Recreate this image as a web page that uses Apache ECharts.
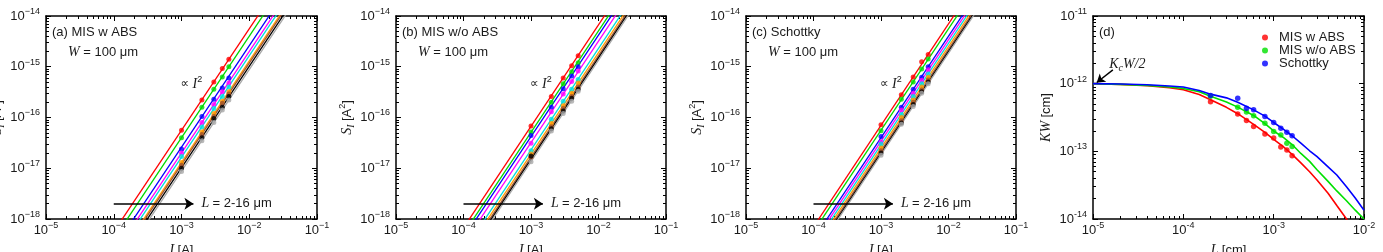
<!DOCTYPE html>
<html>
<head>
<meta charset="utf-8">
<script src="https://cdn.jsdelivr.net/npm/echarts@6/dist/echarts.min.js"></script>
<style>
  html, body { margin: 0; padding: 0; background: #fff; }
  #chart { width: 1383px; height: 252px; }
</style>
</head>
<body>
<div id="chart"></div>
<script>
// ---------- data ----------
// panels (a)-(c): noise S_I vs current I, one line per channel length L
var currents = [1e-3, 2e-3, 3e-3, 4e-3, 5e-3];                 // I [A] of measured points
var lengthsUm = [2, 4, 5, 6, 8, 10, 12, 14, 16];               // L [um]
var lineColors = ['#ff0000', '#00d800', '#0000ff', '#ff00ff', '#00dddd', '#ff9a00', '#a0522d', '#000000', '#a8a8a8'];

// fitted S_I at I = 1 mA for every L (fits follow S_I ∝ I^2)
var fitMisAbs   = [5.6e-17, 4.0e-17, 2.6e-17, 2.0e-17, 1.65e-17, 1.3e-17, 1.18e-17, 1.02e-17, 8.8e-18];
var fitMisNoAbs = [6.7e-17, 5.1e-17, 4.2e-17, 3.2e-17, 2.3e-17, 1.9e-17, 1.65e-17, 1.5e-17, 1.35e-17];
var fitSchottky = [7.0e-17, 5.6e-17, 4.0e-17, 3.4e-17, 2.9e-17, 2.5e-17, 2.2e-17, 2.0e-17, 1.85e-17];

// measured S_I at the currents above, one row per L
var dotsMisAbs = [
  [5.6e-17, 2.2e-16, 5.0e-16, 9.2e-16, 1.4e-15],
  [4.0e-17, 1.6e-16, 3.6e-16, 6.3e-16, 1.0e-15],
  [2.4e-17, 1.05e-16, 2.3e-16, 3.8e-16, 6.0e-16],
  [2.0e-17, 8.0e-17, 1.8e-16, 3.2e-16, 4.8e-16],
  [1.7e-17, 6.5e-17, 1.5e-16, 2.6e-16, 4.0e-16],
  [1.3e-17, 5.2e-17, 1.2e-16, 2.1e-16, 3.2e-16],
  [1.15e-17, 4.6e-17, 1.05e-16, 1.9e-16, 2.9e-16],
  [1.0e-17, 4.0e-17, 9.6e-17, 1.6e-16, 2.6e-16],
  [8.6e-18, 3.5e-17, 8.0e-17, 1.4e-16, 2.2e-16]
];
var dotsMisNoAbs = [
  [6.8e-17, 2.6e-16, 6.0e-16, 1.05e-15, 1.65e-15],
  [5.2e-17, 2.0e-16, 4.6e-16, 8.0e-16, 1.2e-15],
  [4.4e-17, 1.6e-16, 3.7e-16, 6.6e-16, 1.0e-15],
  [3.1e-17, 1.3e-16, 2.9e-16, 5.1e-16, 8.2e-16],
  [2.2e-17, 9.2e-17, 2.1e-16, 3.6e-16, 5.6e-16],
  [1.9e-17, 7.6e-17, 1.7e-16, 3.0e-16, 4.8e-16],
  [1.65e-17, 6.6e-17, 1.5e-16, 2.6e-16, 4.0e-16],
  [1.75e-17, 6.0e-17, 1.35e-16, 2.4e-16, 3.6e-16],
  [1.35e-17, 5.4e-17, 1.2e-16, 2.1e-16, 3.3e-16]
];
var dotsSchottky = [
  [7.2e-17, 2.8e-16, 6.3e-16, 1.25e-15, 1.75e-15],
  [5.5e-17, 2.3e-16, 5.0e-16, 9.0e-16, 1.42e-15],
  [4.2e-17, 1.6e-16, 3.6e-16, 6.2e-16, 1.0e-15],
  [3.3e-17, 1.4e-16, 3.0e-16, 5.4e-16, 8.7e-16],
  [3.0e-17, 1.15e-16, 2.6e-16, 4.6e-16, 7.2e-16],
  [2.5e-17, 1.0e-16, 2.2e-16, 4.0e-16, 6.2e-16],
  [2.2e-17, 8.6e-17, 2.0e-16, 3.5e-16, 5.5e-16],
  [2.0e-17, 7.8e-17, 1.8e-16, 3.2e-16, 5.0e-16],
  [1.8e-17, 7.4e-17, 1.65e-16, 3.0e-16, 4.6e-16]
];

// panel (d): KW vs L, measured points
var lengthsCm = [2e-4, 4e-4, 5e-4, 6e-4, 8e-4, 1e-3, 1.2e-3, 1.4e-3, 1.6e-3];
var kwMisAbs   = [5.4e-13, 3.55e-13, 2.85e-13, 2.33e-13, 1.8e-13, 1.57e-13, 1.16e-13, 1.05e-13, 8.6e-14];
var kwMisNoAbs = [6.5e-13, 4.5e-13, 3.8e-13, 3.35e-13, 2.6e-13, 1.96e-13, 1.75e-13, 1.32e-13, 1.18e-13];
var kwSchottky = [6.7e-13, 6.1e-13, 4.35e-13, 4.1e-13, 3.27e-13, 2.67e-13, 2.2e-13, 1.92e-13, 1.7e-13];

// panel (d): model curves
var curveL = [1e-5, 2e-5, 4e-5, 7e-5, 1e-4, 1.5e-4, 2e-4, 3e-4, 4e-4, 6e-4, 8e-4, 1e-3,
              1.3e-3, 1.6e-3, 2e-3, 2.5e-3, 3e-3, 4e-3, 5e-3, 6.4e-3, 8e-3, 1e-2];
var curveMisAbs = [1e-12, 9.77e-13, 9.33e-13, 8.71e-13, 8.13e-13, 6.92e-13, 5.8e-13, 4.47e-13, 3.6e-13, 2.5e-13, 1.9e-13, 1.5e-13,
                   1.15e-13, 9.0e-14, 6.76e-14, 5.0e-14, 3.8e-14, 2.4e-14, 1.58e-14, 1.0e-14, 6.3e-15, 4.0e-15];
var curveMisNoAbs = [1e-12, 9.77e-13, 9.44e-13, 8.91e-13, 8.51e-13, 7.59e-13, 6.5e-13, 5.37e-13, 4.5e-13, 3.39e-13, 2.57e-13, 2.0e-13,
                     1.58e-13, 1.26e-13, 9.3e-14, 7.1e-14, 5.4e-14, 3.6e-14, 2.6e-14, 1.86e-14, 1.35e-14, 1.0e-14];
var curveSchottky = [1e-12, 9.89e-13, 9.66e-13, 9.23e-13, 8.91e-13, 7.94e-13, 7.0e-13, 6.17e-13, 5.3e-13, 4.1e-13, 3.31e-13, 2.67e-13,
                     2.09e-13, 1.7e-13, 1.32e-13, 1.02e-13, 8.4e-14, 5.9e-14, 4.47e-14, 3.0e-14, 2.04e-14, 1.35e-14];
var kwColors = ['#ff0000', '#00e000', '#0000ff'];
var kwNames = ['MIS w ABS', 'MIS w/o ABS', 'Schottky'];

// ---------- layout ----------
var SANS = 'Liberation Sans, Arial, sans-serif';
var SERIF = 'Liberation Serif, Times New Roman, serif';
var TXT = '#1a1a1a';

var grids = [
  { left: 46, top: 16, width: 271, height: 203 },
  { left: 396, top: 16, width: 270, height: 203 },
  { left: 746, top: 16, width: 270, height: 203 },
  { left: 1093, top: 16, width: 271, height: 203 }
];
var xRanges = [[1e-5, 1e-1], [1e-5, 1e-1], [1e-5, 1e-1], [1e-5, 1e-2]];
var yRanges = [[1e-18, 1e-14], [1e-18, 1e-14], [1e-18, 1e-14], [1e-14, 1e-11]];

var tickRich = {
  b: { fontSize: 13, fontFamily: SANS, color: TXT, lineHeight: 18 },
  s: { fontSize: 9, fontFamily: SANS, color: TXT, lineHeight: 9, verticalAlign: 'top' }
};
var nameRich = {
  r: { fontSize: 13, fontFamily: SANS, color: TXT, lineHeight: 18 },
  i: { fontSize: 14, fontFamily: SERIF, fontStyle: 'italic', color: TXT, lineHeight: 18 },
  sub: { fontSize: 10, fontFamily: SERIF, fontStyle: 'italic', color: TXT, lineHeight: 9, verticalAlign: 'bottom' },
  sup: { fontSize: 9, fontFamily: SANS, color: TXT, lineHeight: 9, verticalAlign: 'top' }
};

function powLabel(dash) {
  return function (v) {
    var e = Math.round(Math.log10(v));
    return '{b|10}{s|' + (e < 0 ? dash : '') + Math.abs(e) + '}';
  };
}
function minorValues(r) {
  var out = [];
  var p0 = Math.round(Math.log10(r[0])), p1 = Math.round(Math.log10(r[1]));
  for (var p = p0; p < p1; p++) {
    for (var k = 2; k < 10; k++) out.push(k * Math.pow(10, p));
  }
  return out;
}

var xAxes = [], yAxes = [];
var mainX = [], mainY = [];
var xNames = ['{i|I} {r|[A]}', '{i|I} {r|[A]}', '{i|I} {r|[A]}', '{i|L} {r|[cm]}'];
var yNames = ['{i|S}{sub|I} {r|[A}{sup|2}{r|]}', '{i|S}{sub|I} {r|[A}{sup|2}{r|]}', '{i|S}{sub|I} {r|[A}{sup|2}{r|]}', '{i|KW} {r|[cm]}'];
var yNameGaps = [40, 40, 40, 38];

grids.forEach(function (g, gi) {
  var dash = gi === 3 ? '-' : '−';
  var baseX = { type: 'log', logBase: 10, gridIndex: gi, min: xRanges[gi][0], max: xRanges[gi][1], splitLine: { show: false } };
  var baseY = { type: 'log', logBase: 10, gridIndex: gi, min: yRanges[gi][0], max: yRanges[gi][1], splitLine: { show: false } };
  var line = { show: true, onZero: false, lineStyle: { color: '#000', width: 1.5 } };

  mainX.push(xAxes.length);
  xAxes.push(Object.assign({}, baseX, {
    position: 'bottom', axisLine: line,
    axisTick: { inside: true, length: 5, lineStyle: { color: '#000' } },
    axisLabel: { formatter: powLabel(dash), rich: tickRich, margin: 2 },
    name: xNames[gi], nameLocation: 'middle', nameGap: 22, nameTextStyle: { rich: nameRich }
  }));
  xAxes.push(Object.assign({}, baseX, {
    position: 'top', axisLine: line,
    axisTick: { inside: true, length: 5, lineStyle: { color: '#000' } },
    axisLabel: { show: false }
  }));
  ['bottom', 'top'].forEach(function (pos) {
    xAxes.push(Object.assign({}, baseX, {
      position: pos, axisLine: { show: false },
      axisTick: { inside: true, length: 3, customValues: minorValues(xRanges[gi]), lineStyle: { color: '#000' } },
      axisLabel: { show: false }
    }));
  });

  mainY.push(yAxes.length);
  yAxes.push(Object.assign({}, baseY, {
    position: 'left', axisLine: line,
    axisTick: { inside: true, length: 5, lineStyle: { color: '#000' } },
    axisLabel: { formatter: powLabel(dash), rich: tickRich, margin: 6 },
    name: yNames[gi], nameLocation: 'middle', nameGap: yNameGaps[gi], nameRotate: 90, nameTextStyle: { rich: nameRich }
  }));
  yAxes.push(Object.assign({}, baseY, {
    position: 'right', axisLine: line,
    axisTick: { inside: true, length: 5, lineStyle: { color: '#000' } },
    axisLabel: { show: false }
  }));
  ['left', 'right'].forEach(function (pos) {
    yAxes.push(Object.assign({}, baseY, {
      position: pos, axisLine: { show: false },
      axisTick: { inside: true, length: 3, customValues: minorValues(yRanges[gi]), lineStyle: { color: '#000' } },
      axisLabel: { show: false }
    }));
  });
});

var series = [];
var panelFits = [fitMisAbs, fitMisNoAbs, fitSchottky];
var panelDots = [dotsMisAbs, dotsMisNoAbs, dotsSchottky];

panelFits.forEach(function (fits, p) {
  fits.forEach(function (a1mA, j) {
    // fit line S = a1mA * (I / 1 mA)^2 across the axis range
    var s = {
      type: 'line', name: 'fit ' + p + '-' + lengthsUm[j],
      xAxisIndex: mainX[p], yAxisIndex: mainY[p],
      data: [[1e-5, a1mA * 1e-4], [1e-1, a1mA * 1e4]],
      showSymbol: false, symbol: 'none', clip: true, silent: true,
      lineStyle: { color: lineColors[j], width: 1.3 },
      z: 2
    };
    if (j === 0) {
      s.markLine = {
        silent: true, symbol: ['none', 'arrow'], symbolSize: 9,
        lineStyle: { color: '#000', width: 1.5, type: 'solid' },
        label: {
          show: true, position: 'end', distance: 8,
          formatter: '{i|L} {r|= 2-16 μm}', rich: nameRich
        },
        data: [[{ coord: [1e-4, 2e-18] }, { coord: [1.5e-3, 2e-18] }]]
      };
      s.markPoint = {
        silent: true, symbol: 'circle', symbolSize: 0,
        label: { show: true, formatter: '{p|∝} {i|I}{sup|2}', rich: Object.assign({ p: { fontSize: 12, fontFamily: 'DejaVu Sans', color: TXT, lineHeight: 18 } }, nameRich) },
        data: [{ coord: [1.4e-3, 4.6e-16] }]
      };
    }
    series.push(s);
  });
  panelDots[p].forEach(function (row, j) {
    series.push({
      type: 'scatter', name: 'dots ' + p + '-' + lengthsUm[j],
      xAxisIndex: mainX[p], yAxisIndex: mainY[p],
      data: currents.map(function (c, k) { return [c, row[k]]; }),
      symbol: 'circle', symbolSize: 5, silent: true,
      itemStyle: { color: lineColors[j] },
      z: 3
    });
  });
});

var kwDots = [kwMisAbs, kwMisNoAbs, kwSchottky];
var kwCurves = [curveMisAbs, curveMisNoAbs, curveSchottky];
kwCurves.forEach(function (c, j) {
  var s = {
    type: 'line', name: kwNames[j] + ' model',
    xAxisIndex: mainX[3], yAxisIndex: mainY[3],
    data: curveL.map(function (l, k) { return [l, c[k]]; }),
    showSymbol: false, symbol: 'none', smooth: false, clip: true, silent: true,
    lineStyle: { color: kwColors[j], width: 1.6 },
    z: 2
  };
  if (j === 0) {
    s.markLine = {
      silent: true, symbol: ['none', 'arrow'], symbolSize: 8,
      lineStyle: { color: '#000', width: 1.4, type: 'solid' }, label: { show: false },
      data: [[{ coord: [1.66e-5, 1.6e-12] }, { coord: [1.1e-5, 1.04e-12] }]]
    };
    s.markPoint = {
      silent: true, symbol: 'circle', symbolSize: 0,
      label: { show: true, formatter: '{i|K}{sub|c}{i|W}{r|/2}', rich: Object.assign({}, nameRich, { r: { fontSize: 14, fontFamily: SERIF, fontStyle: 'italic', color: TXT, lineHeight: 18 } }) },
      data: [{ coord: [2.4e-5, 1.95e-12] }]
    };
  }
  series.push(s);
});
kwDots.forEach(function (d, j) {
  series.push({
    type: 'scatter', name: kwNames[j],
    xAxisIndex: mainX[3], yAxisIndex: mainY[3],
    data: lengthsCm.map(function (l, k) { return [l, d[k]]; }),
    symbol: 'circle', symbolSize: 5.5, silent: true,
    itemStyle: { color: kwColors[j] },
    z: 3
  });
});

var titles = ['(a) MIS w ABS', '(b) MIS w/o ABS', '(c) Schottky', '(d)'];
var graphic = [];
grids.forEach(function (g, gi) {
  graphic.push({
    type: 'text', left: g.left + 6, top: 26, silent: true,
    style: { text: titles[gi], font: '13px ' + SANS, fill: TXT }
  });
  if (gi < 3) {
    graphic.push({
      type: 'text', left: g.left + 22, top: 45, silent: true,
      style: {
        text: '{i|W}{r| = 100 μm}',
        rich: {
          i: { fontSize: 14, fontFamily: SERIF, fontStyle: 'italic', fill: TXT },
          r: { fontSize: 13, fontFamily: SANS, fill: TXT }
        }
      }
    });
  }
});

var option = {
  animation: false,
  backgroundColor: '#fff',
  textStyle: { fontFamily: SANS, color: TXT },
  grid: grids.map(function (g) { return Object.assign({ containLabel: false, outerBoundsMode: 'none' }, g); }),
  xAxis: xAxes,
  yAxis: yAxes,
  legend: {
    data: kwNames, orient: 'vertical', left: 1257, top: 26,
    icon: 'circle', itemWidth: 18, itemHeight: 6, itemGap: 0,
    textStyle: { fontSize: 13, fontFamily: SANS, color: TXT, lineHeight: 12 },
    selectedMode: false
  },
  series: series,
  graphic: graphic
};

var chart = echarts.init(document.getElementById('chart'));
chart.setOption(option);
</script>
</body>
</html>
